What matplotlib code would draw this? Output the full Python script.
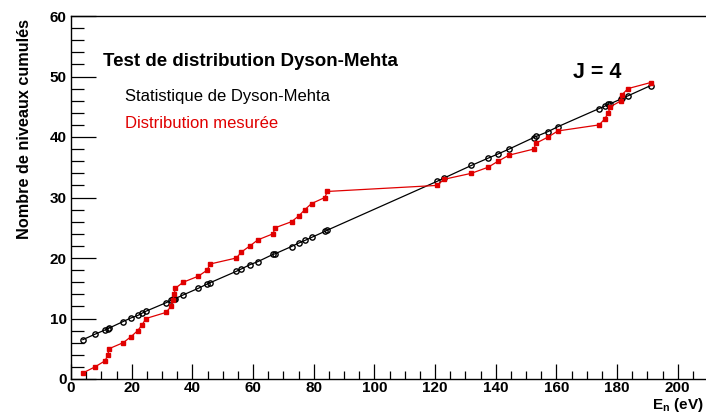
import matplotlib
matplotlib.use("Agg")
import matplotlib.pyplot as plt
from matplotlib.ticker import MultipleLocator

# Level energies (eV)
energies = [3.9, 7.9, 11.2, 12.2, 12.5, 17.2, 19.8, 22.0, 23.5, 24.7,
            31.3, 33.0, 33.6, 34.0, 34.4, 37.0, 42.0, 44.9, 45.8, 54.5,
            56.2, 59.0, 61.6, 66.6, 67.3, 72.7, 75.2, 77.1, 79.3, 83.7,
            84.5, 120.8, 122.9, 132.0, 137.5, 140.8, 144.4, 152.5, 153.4, 157.3,
            160.5, 174.1, 176.0, 177.1, 177.8, 181.4, 181.7, 183.6, 191.1]
# Measured cumulative number of levels
measured = [1, 2, 3, 4, 5, 6, 7, 8, 9, 10,
            11, 12, 13, 14, 15, 16, 17, 18, 19, 20,
            21, 22, 23, 24, 25, 26, 27, 28, 29, 30,
            31, 32, 33, 34, 35, 36, 37, 38, 39, 40,
            41, 42, 43, 44, 45, 46, 47, 48, 49]
# Dyson-Mehta statistic values
dyson_mehta = [6.5, 7.4, 8.1, 8.3, 8.4, 9.5, 10.1, 10.5, 10.9, 11.2,
               12.6, 13.0, 13.2, 13.2, 13.3, 13.9, 15.0, 15.7, 15.9, 17.8,
               18.2, 18.9, 19.4, 20.6, 20.7, 21.9, 22.5, 22.9, 23.4, 24.4,
               24.6, 32.7, 33.2, 35.3, 36.5, 37.2, 38.0, 39.9, 40.1, 40.9,
               41.7, 44.7, 45.1, 45.4, 45.5, 46.3, 46.4, 46.8, 48.5]

xticks = [0, 20, 40, 60, 80, 100, 120, 140, 160, 180, 200]
yticks = [0, 10, 20, 30, 40, 50, 60]

plt.rcParams['font.family'] = ['Liberation Sans', 'DejaVu Sans']
plt.rcParams['mathtext.fontset'] = 'custom'
plt.rcParams['mathtext.rm'] = 'Liberation Sans:bold'
plt.rcParams['mathtext.bf'] = 'Liberation Sans:bold'
plt.rcParams['mathtext.it'] = 'Liberation Sans:bold'

W, H = 706, 416
fig = plt.figure(figsize=(W / 100, H / 100), dpi=100)
x0_px, y0_px, ytop_px = 71, 379, 16
ax = fig.add_axes([x0_px / W, 1 - y0_px / H, 637 / W, (y0_px - ytop_px) / H])

ax.plot(energies, dyson_mehta, color='black', lw=0.9, marker='o', ms=3.8,
        mfc='none', mec='black', mew=1.0, zorder=3)
ax.plot(energies, measured, color='#e00000', lw=0.9, marker='s', ms=3.2,
        mfc='#e00000', mec='#e00000', zorder=4)

ax.set_xlim(0, 210)
ax.set_ylim(0, 60)
ax.set_xticks(xticks)
ax.set_yticks(yticks)
ax.xaxis.set_minor_locator(MultipleLocator(5))
ax.yaxis.set_minor_locator(MultipleLocator(2))
ax.tick_params(axis='y', which='major', direction='in', length=18, width=0.9,
               labelsize=11, pad=3)
ax.tick_params(axis='y', which='minor', direction='in', length=9, width=0.9)
ax.tick_params(axis='x', which='major', direction='in', length=11, width=0.9,
               labelsize=11, pad=1.5)
ax.tick_params(axis='x', which='minor', direction='in', length=6, width=0.9)
for lab in ax.get_xticklabels() + ax.get_yticklabels():
    lab.set_fontweight('bold')
for s in ax.spines.values():
    s.set_linewidth(1.0)

def fx(px):
    return px / W

def fy(py):
    return 1 - py / H

fig.text(fx(25), fy(129), 'Nombre de niveaux cumulés', rotation=90,
         ha='center', va='center', fontsize=11.7, fontweight='bold')
fig.text(fx(704), fy(405), r'$\mathbf{E_n}$ (eV)', ha='right', va='center',
         fontsize=11, fontweight='bold')

fig.text(fx(103), fy(62), 'Test de distribution Dyson-Mehta', ha='left',
         va='center', fontsize=13.5, fontweight='bold')
fig.text(fx(125), fy(97), 'Statistique de Dyson-Mehta', ha='left',
         va='center', fontsize=12, color='black')
fig.text(fx(125), fy(124), 'Distribution mesurée', ha='left',
         va='center', fontsize=12, color='#e00000')
fig.text(fx(573), fy(73), 'J = 4', ha='left', va='center', fontsize=15.5,
         fontweight='bold')

fig.savefig('out.png', dpi=100)
